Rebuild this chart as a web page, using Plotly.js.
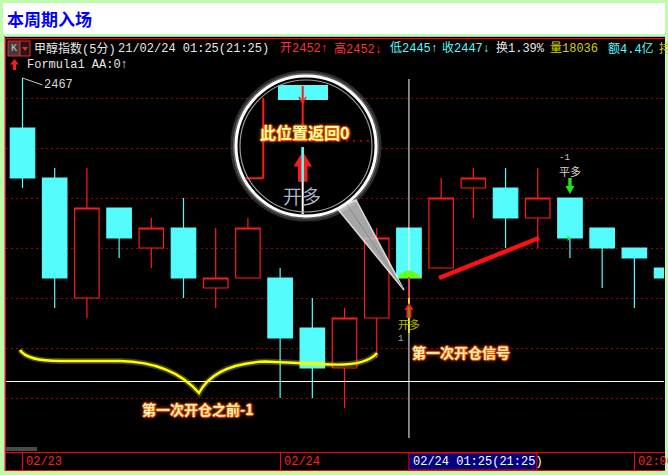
<!DOCTYPE html>
<html>
<head>
<meta charset="utf-8">
<script src="https://cdn.plot.ly/plotly-3.0.1.min.js"></script>
<style>
  html, body { margin: 0; padding: 0; background: #bcfcac; overflow: hidden; }
  #chart { width: 668px; height: 475px; }
</style>
</head>
<body>
<div id="chart"></div>
<script>
// 甲醇指数 5-minute bars (02/23 -> 02/24 night session)
const barOpen  = [2462, 2457, 2445, 2454, 2450, 2452, 2446, 2447, 2447, 2442, 2438, 2443, 2452, 2448, 2456, 2456, 2453, 2455, 2452, 2450, 2448];
const barHigh  = [2467, 2458, 2458, 2454, 2453, 2455, 2452, 2453, 2448, 2445, 2444, 2452, 2452, 2457, 2458, 2458, 2458, 2455, 2452, 2450, 2448];
const barLow   = [2456, 2444, 2443, 2449, 2448, 2445, 2444, 2447, 2435, 2435, 2434, 2439, 2445, 2448, 2453, 2450, 2450, 2449, 2446, 2444, 2447];
const barClose = [2457, 2447, 2454, 2451, 2452, 2447, 2447, 2452, 2441, 2438, 2443, 2451, 2447, 2455, 2457, 2453, 2455, 2451, 2450, 2449, 2447];
const barIndex = barOpen.map((_, i) => i);

// time axis labels
const dateTickIndex = [0, 8, 19];
const dateTickText  = ['02/23', '02/24', '02:00'];

// horizontal reference levels
const gridLevels = [2435, 2440, 2445, 2450, 2455, 2460, 2465];

// cursor bar and quote line
const cursorIndex = 12;
const cursorTime  = '02/24 01:25(21:25)';
const quoteArrows = ['↑', '↓', '↑', '↓'];
const turnover = '1.39%';
const volume   = 18036;
const amount   = '4.4亿';

// formula signals
const buyIndex  = 12;   // 开多
const sellIndex = 17;   // 平多

// ---- geometry ----
const FW = 668, FH = 475;
const ML = 6, MR = 4, MT = 38, MB = 23;
const PW = FW - ML - MR, PH = FH - MT - MB;
const xRange = [-0.512, 19.92];
const yRange = [2429.6, 2471.0];

const px = x => (x - ML) / PW;
const py = y => 1 - (y - MT) / PH;
const xPix = i => ML + (i - xRange[0]) * PW / (xRange[1] - xRange[0]);
const yPix = p => MT + (yRange[1] - p) * PH / (yRange[1] - yRange[0]);

function path(cmds) {
  let out = '', isX = true;
  for (const c of cmds) {
    if (typeof c === 'string') { out += c; isX = true; }
    else { out += (isX ? px(c).toFixed(5) + ',' : py(c).toFixed(5) + ' '); isX = !isX; }
  }
  return out;
}

const shapes = [];
function rect(x0, y0, x1, y1, fill, line, lw, layer) {
  shapes.push({type: 'rect', xref: 'paper', yref: 'paper', x0: px(x0), x1: px(x1), y0: py(y0), y1: py(y1),
    fillcolor: fill || 'rgba(0,0,0,0)', line: {color: line || 'rgba(0,0,0,0)', width: lw || 0}, layer: layer || 'below'});
}
function seg(x0, y0, x1, y1, color, width, layer, dash) {
  shapes.push({type: 'line', xref: 'paper', yref: 'paper', x0: px(x0), x1: px(x1), y0: py(y0), y1: py(y1),
    line: {color: color, width: width, dash: dash || 'solid'}, layer: layer || 'above'});
}
function shapePath(cmds, fill, line, lw, layer, opacity) {
  shapes.push({type: 'path', xref: 'paper', yref: 'paper', path: path(cmds),
    fillcolor: fill || 'rgba(0,0,0,0)', line: {color: line || 'rgba(0,0,0,0)', width: lw || 0},
    layer: layer || 'above', opacity: opacity == null ? 1 : opacity});
}
function circle(cx, cy, r, fill, line, lw, opacity) {
  shapes.push({type: 'circle', xref: 'paper', yref: 'paper', x0: px(cx - r), x1: px(cx + r), y0: py(cy + r), y1: py(cy - r),
    fillcolor: fill || 'rgba(0,0,0,0)', line: {color: line || 'rgba(0,0,0,0)', width: lw || 0},
    layer: 'above', opacity: opacity == null ? 1 : opacity});
}

const annotations = [];
const MONO = "'Liberation Mono', 'DejaVu Sans Mono', 'Noto Sans CJK SC', monospace";
const CJK = "'Noto Sans CJK SC', 'Noto Sans', sans-serif";
function text(x, y, t, o) {
  o = o || {};
  annotations.push({xref: 'paper', yref: 'paper', x: px(x), y: py(y), text: t, showarrow: false,
    xanchor: o.anchor || 'left', yanchor: 'middle',
    font: Object.assign({family: o.family || MONO, size: o.size || 12, color: o.color || '#e6e6e6'},
      o.weight ? {weight: o.weight} : {}, o.shadow ? {shadow: o.shadow} : {})});
}

// ---- frame ----
rect(3, 3, 665, 34, '#ffffff');
rect(4, 36, 665, 471, '#000000');
seg(4, 36.5, 665, 36.5, '#b8b8b8', 1, 'below');
seg(4.5, 36, 4.5, 471, '#9a9a9a', 1, 'below');
seg(5.5, 38, 5.5, 471, '#ff0000', 1, 'below');
seg(5, 38.5, 665, 38.5, '#ff0000', 1, 'below');
seg(5, 452.5, 665, 452.5, '#ff0000', 1, 'below');
seg(5, 470.5, 665, 470.5, '#ff0000', 1, 'below');
rect(6, 447, 37, 451, '#4a4a4a');

// time axis
dateTickIndex.forEach((idx, k) => {
  const x = Math.round(xPix(idx)) + 0.5;
  seg(x, 453, x, 470, '#ff0000', 1, 'below');
  text(x + 1.5, 461.5, dateTickText[k], {color: '#ff2020'});
});
const curX = xPix(cursorIndex);
rect(curX, 453, curX + 128, 470, '#000080', '#ff0000', 1);
text(curX + 2, 461.5, cursorTime, {color: '#ffffff'});

// title
text(5, 18, '本周期入场', {family: CJK, size: 17, color: '#0000ff', weight: 'bold'});

// quote line
rect(8, 41, 20, 56, '#3c3c3c', '#ff2020', 1);
text(14, 48.5, 'K', {anchor: 'center', size: 10, color: '#c8c8c8'});
rect(20, 41, 30, 56, '#1a1a1a', '#ff2020', 1);
shapePath(['M', 22, 47, 'L', 28, 47, 'L', 25, 51, 'Z'], '#ff2020', null, 0, 'below');

const qi = cursorIndex;
const header = [
  [32,  '甲醇指数(5分)', '#e6e6e6'],
  [116, '21/02/24 01:25(21:25)', '#e6e6e6'],
  [278, '开' + barOpen[qi]  + quoteArrows[0], '#ff3232'],
  [332, '高' + barHigh[qi]  + quoteArrows[1], '#ff3232'],
  [388, '低' + barLow[qi]   + quoteArrows[2], '#54fcfc'],
  [440, '收' + barClose[qi] + quoteArrows[3], '#54fcfc'],
  [494, '换' + turnover, '#e6e6e6'],
  [548, '量' + volume, '#d2d200'],
  [606, '额' + amount, '#54fcfc'],
  [657, '持', '#d2d200']
];
header.forEach(h => text(h[0], 48.5, h[1], {color: h[2]}));

// formula line
shapePath(['M', 14.5, 59, 'L', 19, 64.5, 'L', 16, 64.5, 'L', 16, 70, 'L', 13, 70, 'L', 13, 64.5, 'L', 10, 64.5, 'Z'], '#ff1a1a', null, 0, 'below');
text(25, 65, 'Formula1 AA:0↑', {color: '#e6e6e6'});

// ---- crosshair ----
seg(xPix(cursorIndex), 79, xPix(cursorIndex), 438, '#ffffff', 1);
seg(6, 381.5, 664, 381.5, '#ffffff', 1.2);

// green highlight on the cursor bar's body bottom
{
  const x0 = xPix(cursorIndex) - 12.5, x1 = xPix(cursorIndex) + 12.5;
  const yb = yPix(Math.min(barOpen[cursorIndex], barClose[cursorIndex]));
  shapePath(['M', x0, yb, 'Q', (x0 + x1) / 2, yb - 15, x1, yb, 'Z'], '#66ff1a', null, 0, 'above');
}

// ---- buy signal (开多) ----
{
  const x = xPix(buyIndex);
  const yBody = yPix(Math.min(barOpen[buyIndex], barClose[buyIndex]));
  const yLow = yPix(barLow[buyIndex]);
  seg(x, yBody - 1, x, yLow, '#ff1a1a', 1.5);
  seg(x, yLow, x, yLow + 35, '#ffff00', 1.5);
  shapePath(['M', x, yLow + 5, 'L', x + 4.5, yLow + 12, 'L', x + 2.5, yLow + 12, 'L', x + 2.5, yLow + 20,
             'L', x - 2.5, yLow + 20, 'L', x - 2.5, yLow + 12, 'L', x - 4.5, yLow + 12, 'Z'], '#ff1a1a', null, 0);
  seg(x, yLow + 9, x, yLow + 20, '#22cc22', 1.2);
  text(x, yLow + 26, '开多', {anchor: 'center', size: 11, color: '#b4b400', family: CJK});
  text(x - 8, yLow + 41, '1', {anchor: 'center', size: 9, color: '#a8a8a8'});
}

// ---- sell signal (平多) ----
{
  const x = xPix(sellIndex);
  const yHigh = yPix(barHigh[sellIndex]);
  shapePath(['M', x - 1.7, yHigh - 20, 'L', x + 1.7, yHigh - 20, 'L', x + 1.7, yHigh - 12, 'L', x + 4.5, yHigh - 12,
             'L', x, yHigh - 4, 'L', x - 4.5, yHigh - 12, 'L', x - 1.7, yHigh - 12, 'Z'], '#1ee61e', null, 0);
  text(x, yHigh - 27, '平多', {anchor: 'center', size: 11, color: '#d8d0c0', family: CJK});
  text(x - 5, yHigh - 40, '-1', {anchor: 'center', size: 9, color: '#c8c8c8'});
  const yc = yPix(barClose[sellIndex]);
  shapePath(['M', x - 2.5, yc - 2, 'L', x + 1, yc + 0.5, 'L', x - 2.5, yc + 3, 'Z'], '#1ee61e', null, 0);
}

// ---- hand-drawn marks ----
seg(439, 278, 539, 238, '#ff1010', 4.5);
const brace = ['M', 20, 350, 'Q', 27, 361, 60, 361, 'L', 120, 361, 'Q', 172, 362, 199, 393,
               'Q', 214, 364, 265, 361.5, 'L', 330, 364.5, 'Q', 366, 366, 377, 353];
shapePath(brace, null, 'rgba(255,255,0,0.25)', 6);
shapePath(brace, null, '#ffff00', 2.4);

const glow = '1px 0 0 #e04a00, -1px 0 0 #e04a00, 0 1px 0 #e04a00, 0 -1px 0 #e04a00, 0 0 4px #ff7a20';
text(410, 351.5, '第一次开仓信号', {family: CJK, size: 14, weight: 'bold', color: '#fff2b0', shadow: glow});
text(140, 408.5, '第一次开仓之前-1', {family: CJK, size: 14, weight: 'bold', color: '#fff2b0', shadow: glow});

// ---- magnifier ----
{
  const cx = 306, cy = 146, r = 70;
  // handle
  shapePath(['M', 337, 208, 'L', 356, 200, 'L', 404, 290, 'Z'], '#c4c4c4', '#ffffff', 1.5, 'above', 0.85);
  shapePath(['M', 346.5, 204, 'L', 403, 288], null, '#8a8a8a', 1);
  // glow + lens
  circle(cx, cy, r + 4, null, 'rgba(255,255,255,0.18)', 3);
  circle(cx, cy, r + 2, null, 'rgba(255,255,255,0.35)', 2);
  circle(cx, cy, r, '#000000', '#ffffff', 3);
  // magnified view of the cursor bar
  rect(278, 85, 328, 100, '#54fcfc', null, 0, 'above');
  seg(302.7, 86, 302.7, 136, '#ff1a1a', 2);
  shapePath(['M', 299, 97, 'L', 302.7, 103, 'L', 306, 97], null, '#ff1a1a', 1.5);
  seg(263.3, 98, 263.3, 178.3, '#ff1a1a', 2);
  seg(245, 178.3, 263.3, 178.3, '#ff1a1a', 2);
  seg(262, 140.7, 372, 140.7, '#b00000', 2, 'above', '2px,5px');
  seg(302.7, 147, 302.7, 214, '#ffffff', 2);
  shapePath(['M', 302.7, 151.5, 'L', 312, 166.5, 'L', 307.5, 166.5, 'L', 307.5, 181.7, 'L', 298, 181.7,
             'L', 298, 166.5, 'L', 293.5, 166.5, 'Z'], '#ff1a1a', null, 0);
  seg(302.7, 147, 302.7, 182, '#54fcfc', 2.5);
  circle(cx, cy, r - 4, null, '#9a9a9a', 1.2);
  text(302, 195, '开多', {anchor: 'center', family: CJK, size: 19, color: '#a8b4c8'});
  text(304, 131.5, '此位置返回0', {anchor: 'center', family: CJK, size: 16, weight: 'bold', color: '#ffff9a', shadow: glow});
}

// ---- price high label ----
let hiIdx = 0;
barHigh.forEach((h, i) => { if (h > barHigh[hiIdx]) hiIdx = i; });
annotations.push({xref: 'x', yref: 'y', x: hiIdx, y: barHigh[hiIdx], text: String(barHigh[hiIdx]),
  showarrow: true, arrowhead: 0, arrowwidth: 1, arrowcolor: '#c8c8c8', standoff: 0,
  ax: 20, ay: 7, xanchor: 'left', yanchor: 'middle',
  font: {family: MONO, size: 12, color: '#d8d8d8'}});

const trace = {
  type: 'candlestick',
  x: barIndex,
  open: barOpen, high: barHigh, low: barLow, close: barClose,
  increasing: {line: {color: '#ff1a1a', width: 1.2}, fillcolor: '#000000'},
  decreasing: {line: {color: '#54fcfc', width: 1.2}, fillcolor: '#54fcfc'},
  whiskerwidth: 0,
  hoverinfo: 'skip',
  showlegend: false
};

const layout = {
  width: FW, height: FH,
  margin: {l: ML, r: MR, t: MT, b: MB, pad: 0},
  paper_bgcolor: '#bcfcac',
  plot_bgcolor: '#000000',
  boxgap: 0.24, boxgroupgap: 0,
  showlegend: false,
  xaxis: {range: xRange, showgrid: false, zeroline: false, showticklabels: false, showline: false,
          ticks: '', rangeslider: {visible: false}, fixedrange: true},
  yaxis: {range: yRange, tickmode: 'array', tickvals: gridLevels, showgrid: true,
          gridcolor: '#a00000', griddash: '2px,3px', gridwidth: 1,
          zeroline: false, showticklabels: false, showline: false, ticks: '', fixedrange: true},
  shapes: shapes,
  annotations: annotations
};

Plotly.newPlot('chart', [trace], layout, {staticPlot: true, displayModeBar: false});
</script>
</body>
</html>
